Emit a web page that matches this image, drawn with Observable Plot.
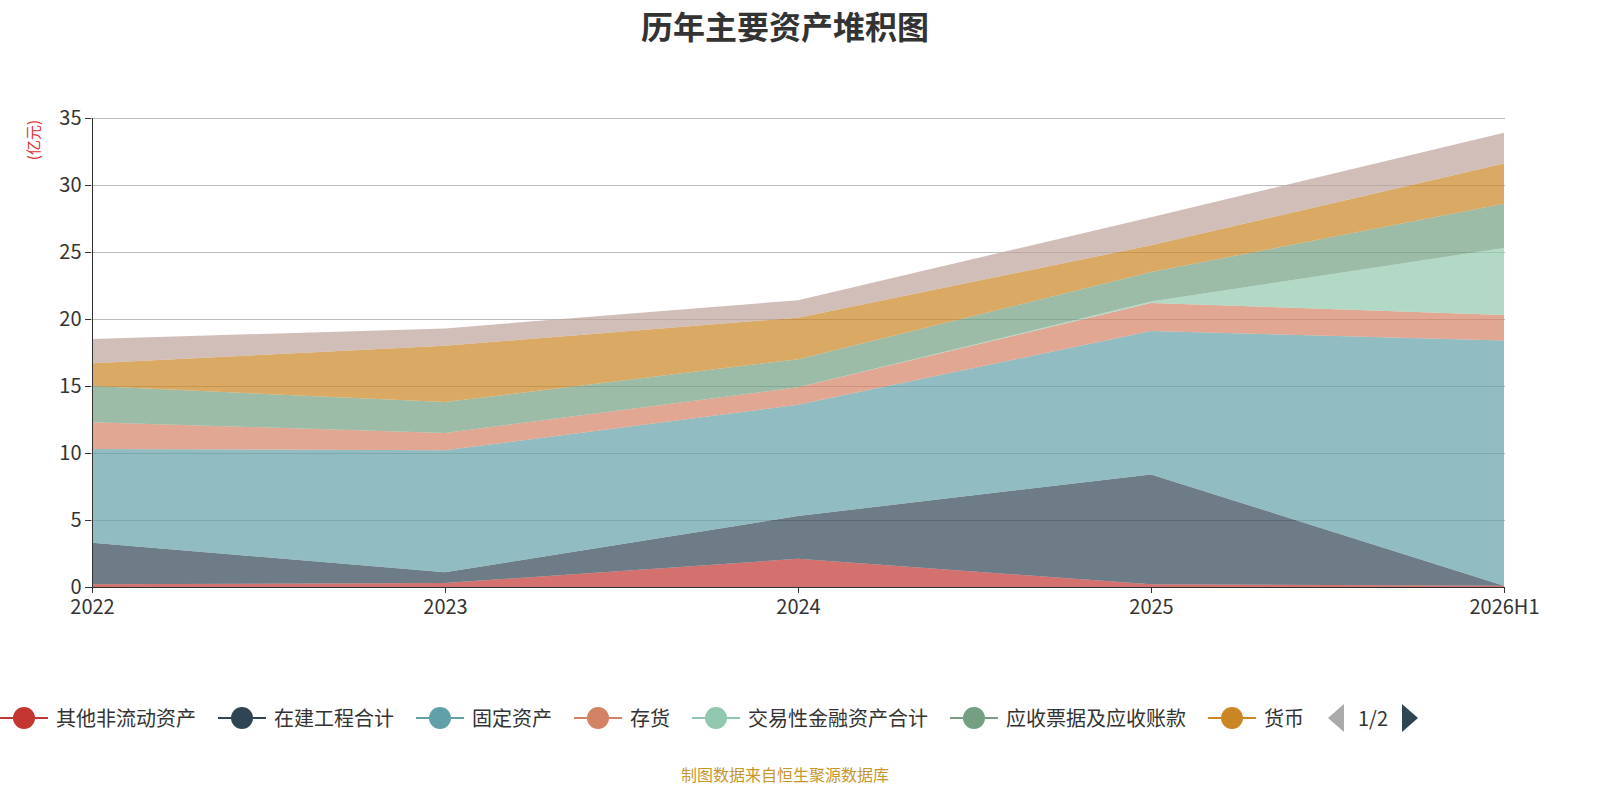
<!DOCTYPE html>
<html><head><meta charset="utf-8">
<script src="https://cdn.jsdelivr.net/npm/d3@7"></script>
<script src="https://cdn.jsdelivr.net/npm/@observablehq/plot@0.6"></script>
<style>
html,body{margin:0;width:1600px;height:800px;overflow:hidden}
body{position:relative;font-family:"Noto Sans CJK SC","Noto Sans",sans-serif;background:#fff}
#title{position:absolute;top:2px;left:0;width:1570px;text-align:center;font-size:32px;font-weight:bold;color:#333}
#chart{position:absolute;top:60px;left:0;width:1600px;height:567px}
#unit{position:absolute;left:22px;top:120px;color:#e03030;font-size:15px;writing-mode:vertical-rl;text-orientation:sideways;transform:rotate(180deg)}
#legend{position:absolute;top:703px;left:0;display:flex;align-items:center;font-size:20px;color:#333;white-space:nowrap}
.item{display:flex;align-items:center;margin-right:22px}
.mk{position:relative;width:48px;height:24px;margin-right:8px}
.mk .ln{position:absolute;left:0;right:0;top:11px;height:2px}
.mk .ci{position:absolute;left:13px;top:1px;width:22px;height:22px;border-radius:50%}
#caption{position:absolute;top:762px;width:1570px;text-align:center;color:#c8962a;font-size:16px}
</style></head><body>
<div id="title">历年主要资产堆积图</div>
<div id="unit">(亿元)</div>
<div id="chart"></div>
<div id="legend"></div>
<div id="caption">制图数据来自恒生聚源数据库</div>
<script>
const years = ["2022","2023","2024","2025","2026H1"];
const seriesNames = ["其他非流动资产","在建工程合计","固定资产","存货","交易性金融资产合计","应收票据及应收账款","货币","其他"];
const colors = ["#c23531","#2f4554","#61a0a8","#d48265","#91c7ae","#749f83","#ca8622","#bda29a"];
const s0 = [0.2,0.3,2.1,0.2,0.1];
const s1 = [3.1,0.8,3.2,8.2,0.0];
const s2 = [7.0,9.1,8.3,10.7,18.3];
const s3 = [2.0,1.3,1.3,2.1,1.9];
const s4 = [0.0,0.0,0.0,0.1,5.0];
const s5 = [2.7,2.3,2.1,2.2,3.3];
const s6 = [1.7,4.2,3.1,2.0,3.0];
const s7 = [1.8,1.3,1.3,2.1,2.3];
const allSeries = [s0,s1,s2,s3,s4,s5,s6,s7];
const data = [];
allSeries.forEach((s,i)=>s.forEach((v,j)=>data.push({year:years[j],value:v,name:seriesNames[i]})));
const plot = Plot.plot({
  width:1600, height:567, marginTop:58, marginLeft:91, marginRight:95, marginBottom:40,
  style:{fontSize:"20px",fontFamily:"Noto Sans CJK SC, Noto Sans, sans-serif",color:"#333",maxWidth:"none"},
  x:{type:"point",domain:years,padding:0,label:null},
  y:{domain:[0,35],ticks:[0,5,10,15,20,25,30,35],label:null},
  color:{domain:seriesNames,range:colors},
  marks:[
    Plot.gridY([0,5,10,15,20,25,30,35],{stroke:"#aaa",strokeOpacity:0.8}),
    Plot.areaY(data,{x:"year",y:"value",fill:"name",fillOpacity:0.7,order:seriesNames}),
    Plot.axisY({ticks:[0,5,10,15,20,25,30,35],tickSize:6,tickPadding:4,fontSize:20}),
    Plot.ruleX([years[0]],{stroke:"#333"}),
    Plot.axisX({tickSize:6,fontSize:20,tickPadding:6}),
    Plot.ruleY([0],{stroke:"#333"})
  ]
});
document.getElementById("chart").appendChild(plot);
const lg = document.getElementById("legend");
seriesNames.slice(0,7).forEach((n,i)=>{
  const d=document.createElement("div");d.className="item";
  d.innerHTML=`<div class="mk"><div class="ln" style="background:${colors[i]}"></div><div class="ci" style="background:${colors[i]}"></div></div>${n}`;
  lg.appendChild(d);
});
const pg=document.createElement("div");pg.className="item";
pg.innerHTML=`<svg width="20" height="28"><polygon points="18,0 18,28 2,14" fill="#aaa"/></svg><span style="margin:0 12px">1/2</span><svg width="20" height="28"><polygon points="2,0 2,28 18,14" fill="#2f4554"/></svg>`;
lg.appendChild(pg);
</script></body></html>
